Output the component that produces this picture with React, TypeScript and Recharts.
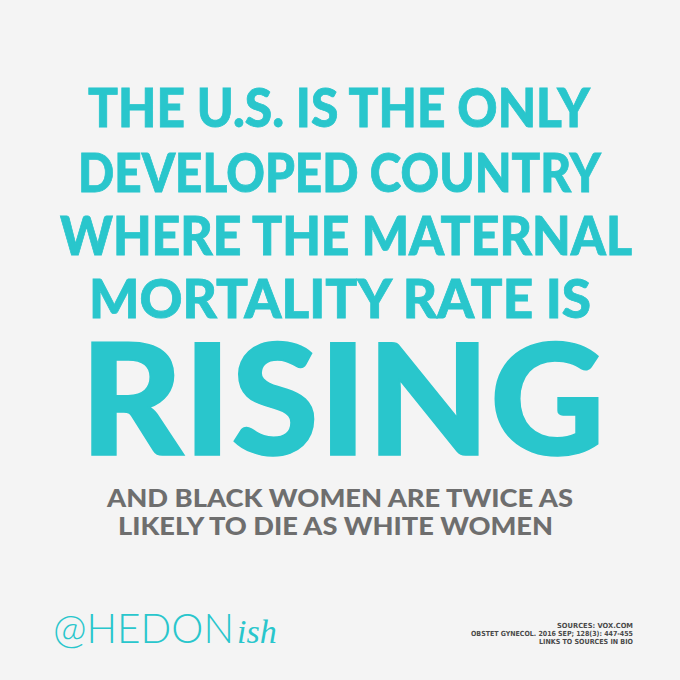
import React from "react";
import { ComposedChart, XAxis, YAxis, Customized } from "recharts";

const headlineLines = [
  "THE U.S. IS THE ONLY",
  "DEVELOPED COUNTRY",
  "WHERE THE MATERNAL",
  "MORTALITY RATE IS",
];
const emphasisWord = "RISING";
const subLines = [
  "AND BLACK WOMEN ARE TWICE AS",
  "LIKELY TO DIE AS WHITE WOMEN",
];
const handleMain = "@HEDON";
const handleScript = "ish";
const sourceLines = [
  "SOURCES: VOX.COM",
  "OBSTET GYNECOL. 2016 SEP; 128(3): 447-455",
  "LINKS TO SOURCES IN BIO",
];

const chartData = headlineLines.map((t, i) => ({ name: t, idx: i }));

const TEAL = "#29c6cc";
const GRAY = "#6e6e6e";
const BG = "#f4f4f4";

// layout (style, not data)
const headX = [88, 78, 60, 89];
const headW = [502, 523, 572, 502];
const headBase = [127, 192, 255, 318];
const subX = [107, 118];
const subW = [466, 435];
const subBase = [507, 535];
const srcBase = [628, 636, 644];
const srcW = [76, 162, 94];

const Poster = () => (
  <g>
    <rect x={0} y={0} width={680} height={680} fill={BG} />
    {headlineLines.map((t, i) => (
      <text
        key={t}
        x={headX[i]}
        y={headBase[i]}
        textLength={headW[i]}
        lengthAdjust="spacingAndGlyphs"
        fontFamily="Lato, 'Open Sans', sans-serif"
        fontWeight={900}
        fontSize={54}
        fill={TEAL}
        stroke={TEAL}
        strokeWidth={0.8}
      >
        {t}
      </text>
    ))}
    <text
      x={80}
      y={455}
      textLength={525}
      lengthAdjust="spacingAndGlyphs"
      fontFamily="Lato, 'Open Sans', sans-serif"
      fontWeight={900}
      fontSize={154}
      fill={TEAL}
      stroke={TEAL}
      strokeWidth={1.5}
    >
      {emphasisWord}
    </text>
    {subLines.map((t, i) => (
      <text
        key={t}
        x={subX[i]}
        y={subBase[i]}
        textLength={subW[i]}
        lengthAdjust="spacingAndGlyphs"
        fontFamily="Lato, 'Open Sans', sans-serif"
        fontWeight={900}
        fontSize={24}
        fill={GRAY}
      >
        {t}
      </text>
    ))}
    <text x={53} y={643} fill={TEAL}>
      <tspan
        fontFamily="Lato, 'Open Sans', sans-serif"
        fontWeight={300}
        fontSize={42}
        textLength={181}
        lengthAdjust="spacingAndGlyphs"
      >
        {handleMain}
      </tspan>
      <tspan
        dx={3}
        fontFamily="'Liberation Serif', 'DejaVu Serif', serif"
        fontStyle="italic"
        fontWeight={400}
        fontSize={34}
      >
        {handleScript}
      </tspan>
    </text>
    {sourceLines.map((t, i) => (
      <text
        key={t}
        x={633 - srcW[i]}
        y={srcBase[i]}
        textLength={srcW[i]}
        lengthAdjust="spacingAndGlyphs"
        fontFamily="'DejaVu Sans', sans-serif"
        fontWeight={700}
        fontSize={7}
        fill="#4a4a4a"
      >
        {t}
      </text>
    ))}
  </g>
);

export default function App() {
  return (
    <div style={{ position: "absolute", left: 0, top: 0, width: 680, height: 680, background: BG }}>
      <ComposedChart
        width={680}
        height={680}
        data={chartData}
        margin={{ top: 0, right: 0, bottom: 0, left: 0 }}
      >
        <XAxis dataKey="name" hide />
        <YAxis dataKey="idx" hide />
        <Customized component={Poster} />
      </ComposedChart>
    </div>
  );
}
